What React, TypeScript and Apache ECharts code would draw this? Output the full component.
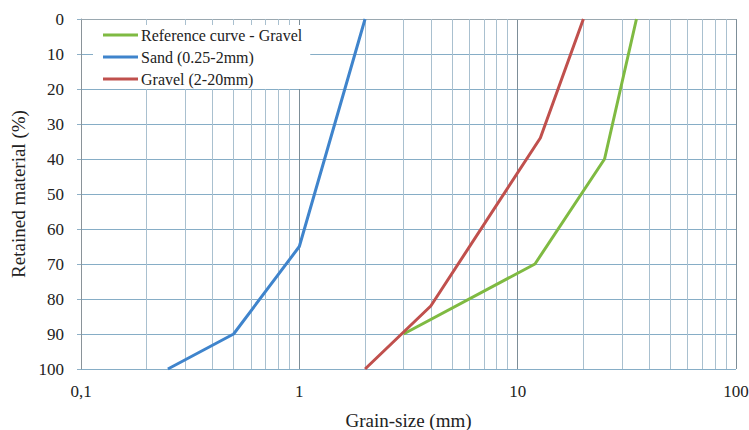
import React, { useEffect, useRef } from "react";
import * as echarts from "echarts";

const seriesNames = ["Reference curve - Gravel", "Sand (0.25-2mm)", "Gravel (2-20mm)"];
const colors = ["#7fba42", "#3f84cc", "#c0504d"];

const referenceGravel: [number, number][] = [[3, 90], [12, 70], [25, 40], [35, 0]];
const sand: [number, number][] = [[0.25, 100], [0.5, 90], [1, 65], [2, 0]];
const gravel: [number, number][] = [[2, 100], [4, 82], [12.7, 34], [20, 0]];

const minorGridValues = [
  0.2, 0.3, 0.4, 0.5, 0.6, 0.7, 0.8, 0.9,
  2, 3, 4, 5, 6, 7, 8, 9,
  20, 30, 40, 50, 60, 70, 80, 90,
];

const yTicks = { min: 0, max: 100, interval: 10 };
const xRange = { min: 0.1, max: 100 };

const FONT = "'Liberation Serif', 'DejaVu Serif', serif";

export default function App() {
  const ref = useRef<HTMLDivElement>(null);
  useEffect(() => {
    if (!ref.current) return;
    const chart = echarts.init(ref.current, undefined, { renderer: "svg" });
    const dataSets = [referenceGravel, sand, gravel];
    chart.setOption({
      animation: false,
      backgroundColor: "#ffffff",
      textStyle: { fontFamily: FONT },
      grid: { left: 81, right: 13, top: 19, bottom: 61, containLabel: false, outerBoundsMode: "none" },
      legend: {
        orient: "vertical",
        left: 93,
        top: 25,
        data: [...seriesNames],
        backgroundColor: "#ffffff",
        padding: [2, 8, 2, 10],
        itemGap: 6,
        itemWidth: 35,
        itemHeight: 3,
        icon: "rect",
        textStyle: { fontFamily: FONT, fontSize: 16, color: "#222", padding: [0, 0, 0, -2] },
      },
      xAxis: {
        type: "log",
        logBase: 10,
        min: xRange.min,
        max: xRange.max,
        name: "Grain-size (mm)",
        nameLocation: "middle",
        nameGap: 42,
        nameTextStyle: { fontFamily: FONT, fontSize: 19, color: "#222" },
        axisLine: { show: true, lineStyle: { color: "#9aa8b0", width: 1 } },
        axisTick: { show: false },
        axisLabel: {
          fontFamily: FONT,
          fontSize: 17,
          color: "#222",
          margin: 14,
          formatter: (v: number) => String(v).replace(".", ","),
        },
        splitLine: { show: true, lineStyle: { color: "#7d8e98", width: 1 } },
      },
      yAxis: {
        type: "value",
        inverse: true,
        min: yTicks.min,
        max: yTicks.max,
        interval: yTicks.interval,
        name: "Retained material (%)",
        nameLocation: "middle",
        nameGap: 50,
        nameTextStyle: { fontFamily: FONT, fontSize: 19, color: "#222" },
        axisLine: { show: true, lineStyle: { color: "#8a9399", width: 1 } },
        axisTick: { show: true, length: 4, lineStyle: { color: "#8fb0c6" } },
        axisLabel: { fontFamily: FONT, fontSize: 17, color: "#222", margin: 17 },
        splitLine: { show: true, lineStyle: { color: "#86adc6", width: 1 } },
      },
      series: seriesNames.map((name, i) => ({
        name,
        type: "line",
        data: dataSets[i],
        showSymbol: false,
        symbol: "none",
        lineStyle: { color: colors[i], width: 3 },
        itemStyle: { color: colors[i] },
        z: 5,
        markLine:
          i === 0
            ? {
                silent: true,
                symbol: "none",
                label: { show: false },
                lineStyle: { color: "#a9c0cf", width: 1, type: "solid" },
                z: 1,
                data: minorGridValues.map((v) => ({ xAxis: v })),
              }
            : undefined,
      })),
    });
    return () => chart.dispose();
  }, []);
  return <div ref={ref} style={{ width: 749, height: 430, position: "absolute", left: 0, top: 0 }} />;
}
